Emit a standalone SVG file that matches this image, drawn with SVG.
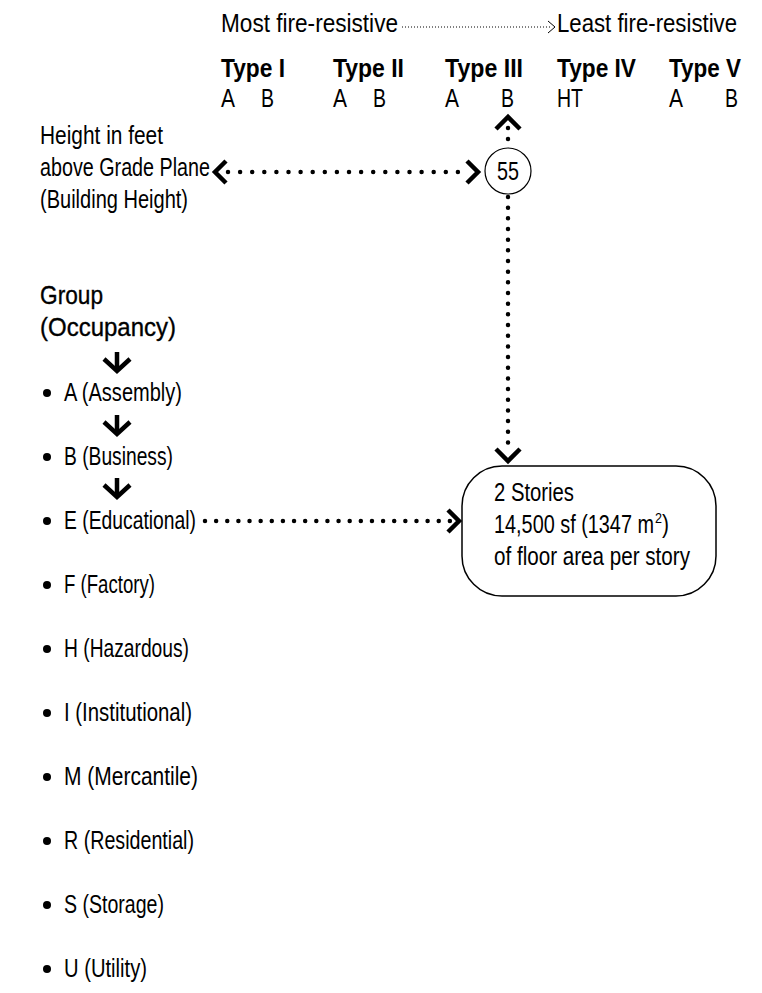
<svg xmlns="http://www.w3.org/2000/svg" width="762" height="993" viewBox="0 0 762 993">
<style>
text{font-family:"Liberation Sans",Arial,sans-serif;font-size:25.5px;fill:#000}
text.sup{font-size:14px}
.b{font-weight:bold}
.m{stroke:#000;stroke-width:0.35}
.dot{fill:none;stroke:#000;stroke-width:4.5;stroke-linecap:round}
.chev{fill:none;stroke:#000;stroke-width:4.5;stroke-linejoin:miter;stroke-linecap:butt}
.thin{fill:none;stroke:#000;stroke-width:1}
</style>
<rect width="762" height="993" fill="#fff"/>
<g id="scale">
<text x="221" y="32" textLength="177" lengthAdjust="spacingAndGlyphs">Most fire-resistive</text>
<text x="557" y="32" textLength="180" lengthAdjust="spacingAndGlyphs">Least fire-resistive</text>
</g>
<g id="types">
<text class="b" x="221" y="77" textLength="64" lengthAdjust="spacingAndGlyphs">Type I</text>
<text class="b" x="333" y="77" textLength="71" lengthAdjust="spacingAndGlyphs">Type II</text>
<text class="b" x="445" y="77" textLength="78" lengthAdjust="spacingAndGlyphs">Type III</text>
<text class="b" x="557" y="77" textLength="79" lengthAdjust="spacingAndGlyphs">Type IV</text>
<text class="b" x="669" y="77" textLength="72" lengthAdjust="spacingAndGlyphs">Type V</text>
<text x="221" y="107" textLength="14" lengthAdjust="spacingAndGlyphs">A</text>
<text x="261" y="107" textLength="13" lengthAdjust="spacingAndGlyphs">B</text>
<text x="333" y="107" textLength="14" lengthAdjust="spacingAndGlyphs">A</text>
<text x="373" y="107" textLength="13" lengthAdjust="spacingAndGlyphs">B</text>
<text x="445" y="107" textLength="14" lengthAdjust="spacingAndGlyphs">A</text>
<text x="501" y="107" textLength="13" lengthAdjust="spacingAndGlyphs">B</text>
<text x="557" y="107" textLength="26" lengthAdjust="spacingAndGlyphs">HT</text>
<text x="669" y="107" textLength="14" lengthAdjust="spacingAndGlyphs">A</text>
<text x="725" y="107" textLength="13" lengthAdjust="spacingAndGlyphs">B</text>
</g>
<g id="height-label">
<text x="40" y="144" textLength="123" lengthAdjust="spacingAndGlyphs">Height in feet</text>
<text x="40" y="176" textLength="170" lengthAdjust="spacingAndGlyphs">above Grade Plane</text>
<text x="40" y="208" textLength="148" lengthAdjust="spacingAndGlyphs">(Building Height)</text>
</g>
<g id="height-value">
<circle cx="508" cy="171" r="23" fill="none" stroke="#000" stroke-width="1.2"/>
<text x="497" y="180" textLength="22" lengthAdjust="spacingAndGlyphs">55</text>
</g>
<g id="group-label">
<text class="m" x="40" y="304" textLength="63" lengthAdjust="spacingAndGlyphs">Group</text>
<text class="m" x="40" y="336" textLength="136" lengthAdjust="spacingAndGlyphs">(Occupancy)</text>
</g>
<g id="groups">
<circle cx="47" cy="393" r="4"/><text x="64" y="401" textLength="118" lengthAdjust="spacingAndGlyphs">A (Assembly)</text>
<circle cx="47" cy="457" r="4"/><text x="64" y="465" textLength="109" lengthAdjust="spacingAndGlyphs">B (Business)</text>
<circle cx="47" cy="521" r="4"/><text x="64" y="529" textLength="132" lengthAdjust="spacingAndGlyphs">E (Educational)</text>
<circle cx="47" cy="585" r="4"/><text x="64" y="593" textLength="91" lengthAdjust="spacingAndGlyphs">F (Factory)</text>
<circle cx="47" cy="649" r="4"/><text x="64" y="657" textLength="125" lengthAdjust="spacingAndGlyphs">H (Hazardous)</text>
<circle cx="47" cy="713" r="4"/><text x="64" y="721" textLength="128" lengthAdjust="spacingAndGlyphs">I (Institutional)</text>
<circle cx="47" cy="777" r="4"/><text x="64" y="785" textLength="134" lengthAdjust="spacingAndGlyphs">M (Mercantile)</text>
<circle cx="47" cy="841" r="4"/><text x="64" y="849" textLength="130" lengthAdjust="spacingAndGlyphs">R (Residential)</text>
<circle cx="47" cy="905" r="4"/><text x="64" y="913" textLength="100" lengthAdjust="spacingAndGlyphs">S (Storage)</text>
<circle cx="47" cy="969" r="4"/><text x="64" y="977" textLength="83" lengthAdjust="spacingAndGlyphs">U (Utility)</text>
</g>
<g id="result">
<rect x="462" y="466" width="254" height="130" rx="40" ry="40" fill="#fff" stroke="#000" stroke-width="1.5"/>
<text x="494" y="501" textLength="80" lengthAdjust="spacingAndGlyphs">2 Stories</text>
<text x="494" y="533" textLength="160" lengthAdjust="spacingAndGlyphs">14,500 sf (1347 m</text>
<text class="sup" x="655" y="523" textLength="7" lengthAdjust="spacingAndGlyphs">2</text>
<text x="662" y="533" textLength="7" lengthAdjust="spacingAndGlyphs">)</text>
<text x="494" y="565" textLength="196" lengthAdjust="spacingAndGlyphs">of floor area per story</text>
</g>
<g id="connectors">
<line class="thin" x1="402" y1="27" x2="550" y2="27" stroke-dasharray="1 2"/>
<polyline class="thin" points="548,21 555,27 548,33"/>
<line class="dot" x1="228" y1="172" x2="470" y2="172" stroke-dasharray="0 12.1"/>
<polyline class="chev" points="226,161 215,172 226,183"/>
<polyline class="chev" points="467,161 478,172 467,183"/>
<line class="dot" x1="508" y1="128" x2="508" y2="140" stroke-dasharray="0 11"/>
<polyline class="chev" points="496,129 508,117 520,129"/>
<line class="dot" x1="508" y1="197" x2="508" y2="453" stroke-dasharray="0 10.67"/>
<polyline class="chev" points="496,449 508,461 520,449"/>
<line class="dot" x1="205" y1="521" x2="450" y2="521" stroke-dasharray="0 11.13"/>
<polyline class="chev" points="448,510 459,521 448,532"/>
<g id="group-arrows">
<line class="chev" x1="117" y1="352" x2="117" y2="368"/><polyline class="chev" points="104,359 117,371 130,359"/>
<line class="chev" x1="117" y1="415" x2="117" y2="431"/><polyline class="chev" points="104,422 117,434 130,422"/>
<line class="chev" x1="117" y1="478" x2="117" y2="494"/><polyline class="chev" points="104,485 117,497 130,485"/>
</g>
</g>
</svg>
